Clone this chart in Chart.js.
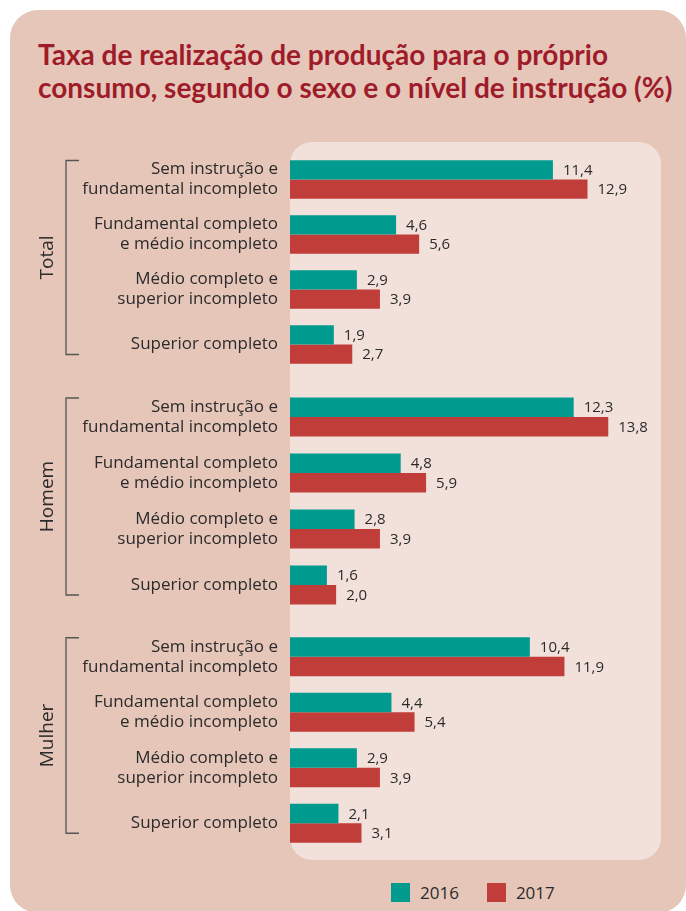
<!DOCTYPE html>
<html>
<head>
<meta charset="utf-8">
<script src="https://cdn.jsdelivr.net/npm/chart.js@4.4.1/dist/chart.umd.min.js"></script>
<style>
  html, body { margin: 0; padding: 0; background: #fff; }
  body { width: 686px; height: 911px; position: relative; overflow: hidden; font-family: 'Open Sans', sans-serif; }
  .card { position: absolute; left: 10px; top: 10px; width: 676px; height: 903px; background: #e6c6b9; border-radius: 28px; }
  .panel { position: absolute; left: 290px; top: 142px; width: 371px; height: 718px; background: #f2e1da; border-radius: 22px; }
  h1 { position: absolute; left: 38px; top: 38px; margin: 0; font: bold 28px/33px Lato, sans-serif; color: #9e1c2a; white-space: nowrap; }
  canvas { position: absolute; left: 0; }
  #legend { position: absolute; left: 391px; top: 881px; display: flex; gap: 28px; font-size: 17px; color: #2b2b2b; }
  #legend span { display: inline-flex; align-items: center; }
  #legend i { display: inline-block; width: 19px; height: 19px; margin-right: 10px; }
</style>
</head>
<body>
<div class="card"></div>
<div class="panel"></div>
<h1>Taxa de realização de produção para o próprio<br>consumo, segundo o sexo e o nível de instrução (%)</h1>
<canvas id="c-total" width="686" height="220" style="top:152px"></canvas>
<canvas id="c-homem" width="686" height="224" style="top:389px"></canvas>
<canvas id="c-mulher" width="686" height="222" style="top:629px"></canvas>
<div id="legend"></div>
<script>
const levels = [
  ['Sem instrução e', 'fundamental incompleto'],
  ['Fundamental completo', 'e médio incompleto'],
  ['Médio completo e', 'superior incompleto'],
  'Superior completo'
];
const groups = ['Total', 'Homem', 'Mulher'];
const years = ['2016', '2017'];
const colors = ['#009a8e', '#c13d39'];

const total2016 = [11.4, 4.6, 2.9, 1.9];
const total2017 = [12.9, 5.6, 3.9, 2.7];
const homem2016 = [12.3, 4.8, 2.8, 1.6];
const homem2017 = [13.8, 5.9, 3.9, 2.0];
const mulher2016 = [10.4, 4.4, 2.9, 2.1];
const mulher2017 = [11.9, 5.4, 3.9, 3.1];

const textColor = '#2b2b2b';

// value labels at the end of each bar, with comma decimals
const valueLabels = {
  id: 'valueLabels',
  afterDatasetsDraw(chart) {
    const ctx = chart.ctx;
    ctx.save();
    ctx.font = '15px "Open Sans"';
    ctx.fillStyle = textColor;
    ctx.textBaseline = 'middle';
    ctx.textAlign = 'left';
    chart.data.datasets.forEach((ds, i) => {
      chart.getDatasetMeta(i).data.forEach((bar, j) => {
        ctx.fillText(ds.data[j].toFixed(1).replace('.', ','), bar.x + 10, bar.y + 1);
      });
    });
    ctx.restore();
  }
};

// rotated group name and bracket on the left
const groupBracket = {
  id: 'groupBracket',
  afterDraw(chart, args, opts) {
    const y = chart.scales.y;
    const top = y.getPixelForValue(0) - 19;
    const bottom = y.getPixelForValue(3) + 10;
    const ctx = chart.ctx;
    ctx.save();
    ctx.strokeStyle = '#555';
    ctx.lineWidth = 1.3;
    ctx.beginPath();
    ctx.moveTo(79, top);
    ctx.lineTo(66, top);
    ctx.lineTo(66, bottom);
    ctx.lineTo(79, bottom);
    ctx.stroke();
    ctx.translate(48, (top + bottom) / 2);
    ctx.rotate(-Math.PI / 2);
    ctx.font = '19px "Open Sans"';
    ctx.fillStyle = textColor;
    ctx.textAlign = 'center';
    ctx.textBaseline = 'middle';
    ctx.fillText(opts.label, 0, 0);
    ctx.restore();
  }
};

function makeChart(id, name, a, b) {
  return new Chart(document.getElementById(id), {
    type: 'bar',
    data: {
      labels: levels,
      datasets: [
        { label: years[0], data: a, backgroundColor: colors[0] },
        { label: years[1], data: b, backgroundColor: colors[1] }
      ]
    },
    options: {
      indexAxis: 'y',
      responsive: false,
      animation: false,
      layout: { padding: { left: 0, right: 27, top: 0, bottom: 0 } },
      datasets: { bar: { categoryPercentage: 0.7, barPercentage: 1 } },
      plugins: {
        legend: { display: false },
        tooltip: { enabled: false },
        groupBracket: { label: name }
      },
      scales: {
        x: { display: false, min: 0, max: 16 },
        y: {
          grid: { display: false, drawTicks: false },
          border: { display: false },
          ticks: {
            color: textColor,
            padding: 12,
            font: { family: 'Open Sans', size: 17, lineHeight: 1.18 }
          },
          afterFit(s) {
            s.width = 290;
            s.paddingTop = 0;
            s.paddingBottom = 0;
          }
        }
      }
    },
    plugins: [valueLabels, groupBracket]
  });
}

makeChart('c-total', groups[0], total2016, total2017);
makeChart('c-homem', groups[1], homem2016, homem2017);
makeChart('c-mulher', groups[2], mulher2016, mulher2017);

const legend = document.getElementById('legend');
years.forEach((y, i) => {
  const item = document.createElement('span');
  item.innerHTML = '<i style="background:' + colors[i] + '"></i>' + y;
  legend.appendChild(item);
});
</script>
</body>
</html>
